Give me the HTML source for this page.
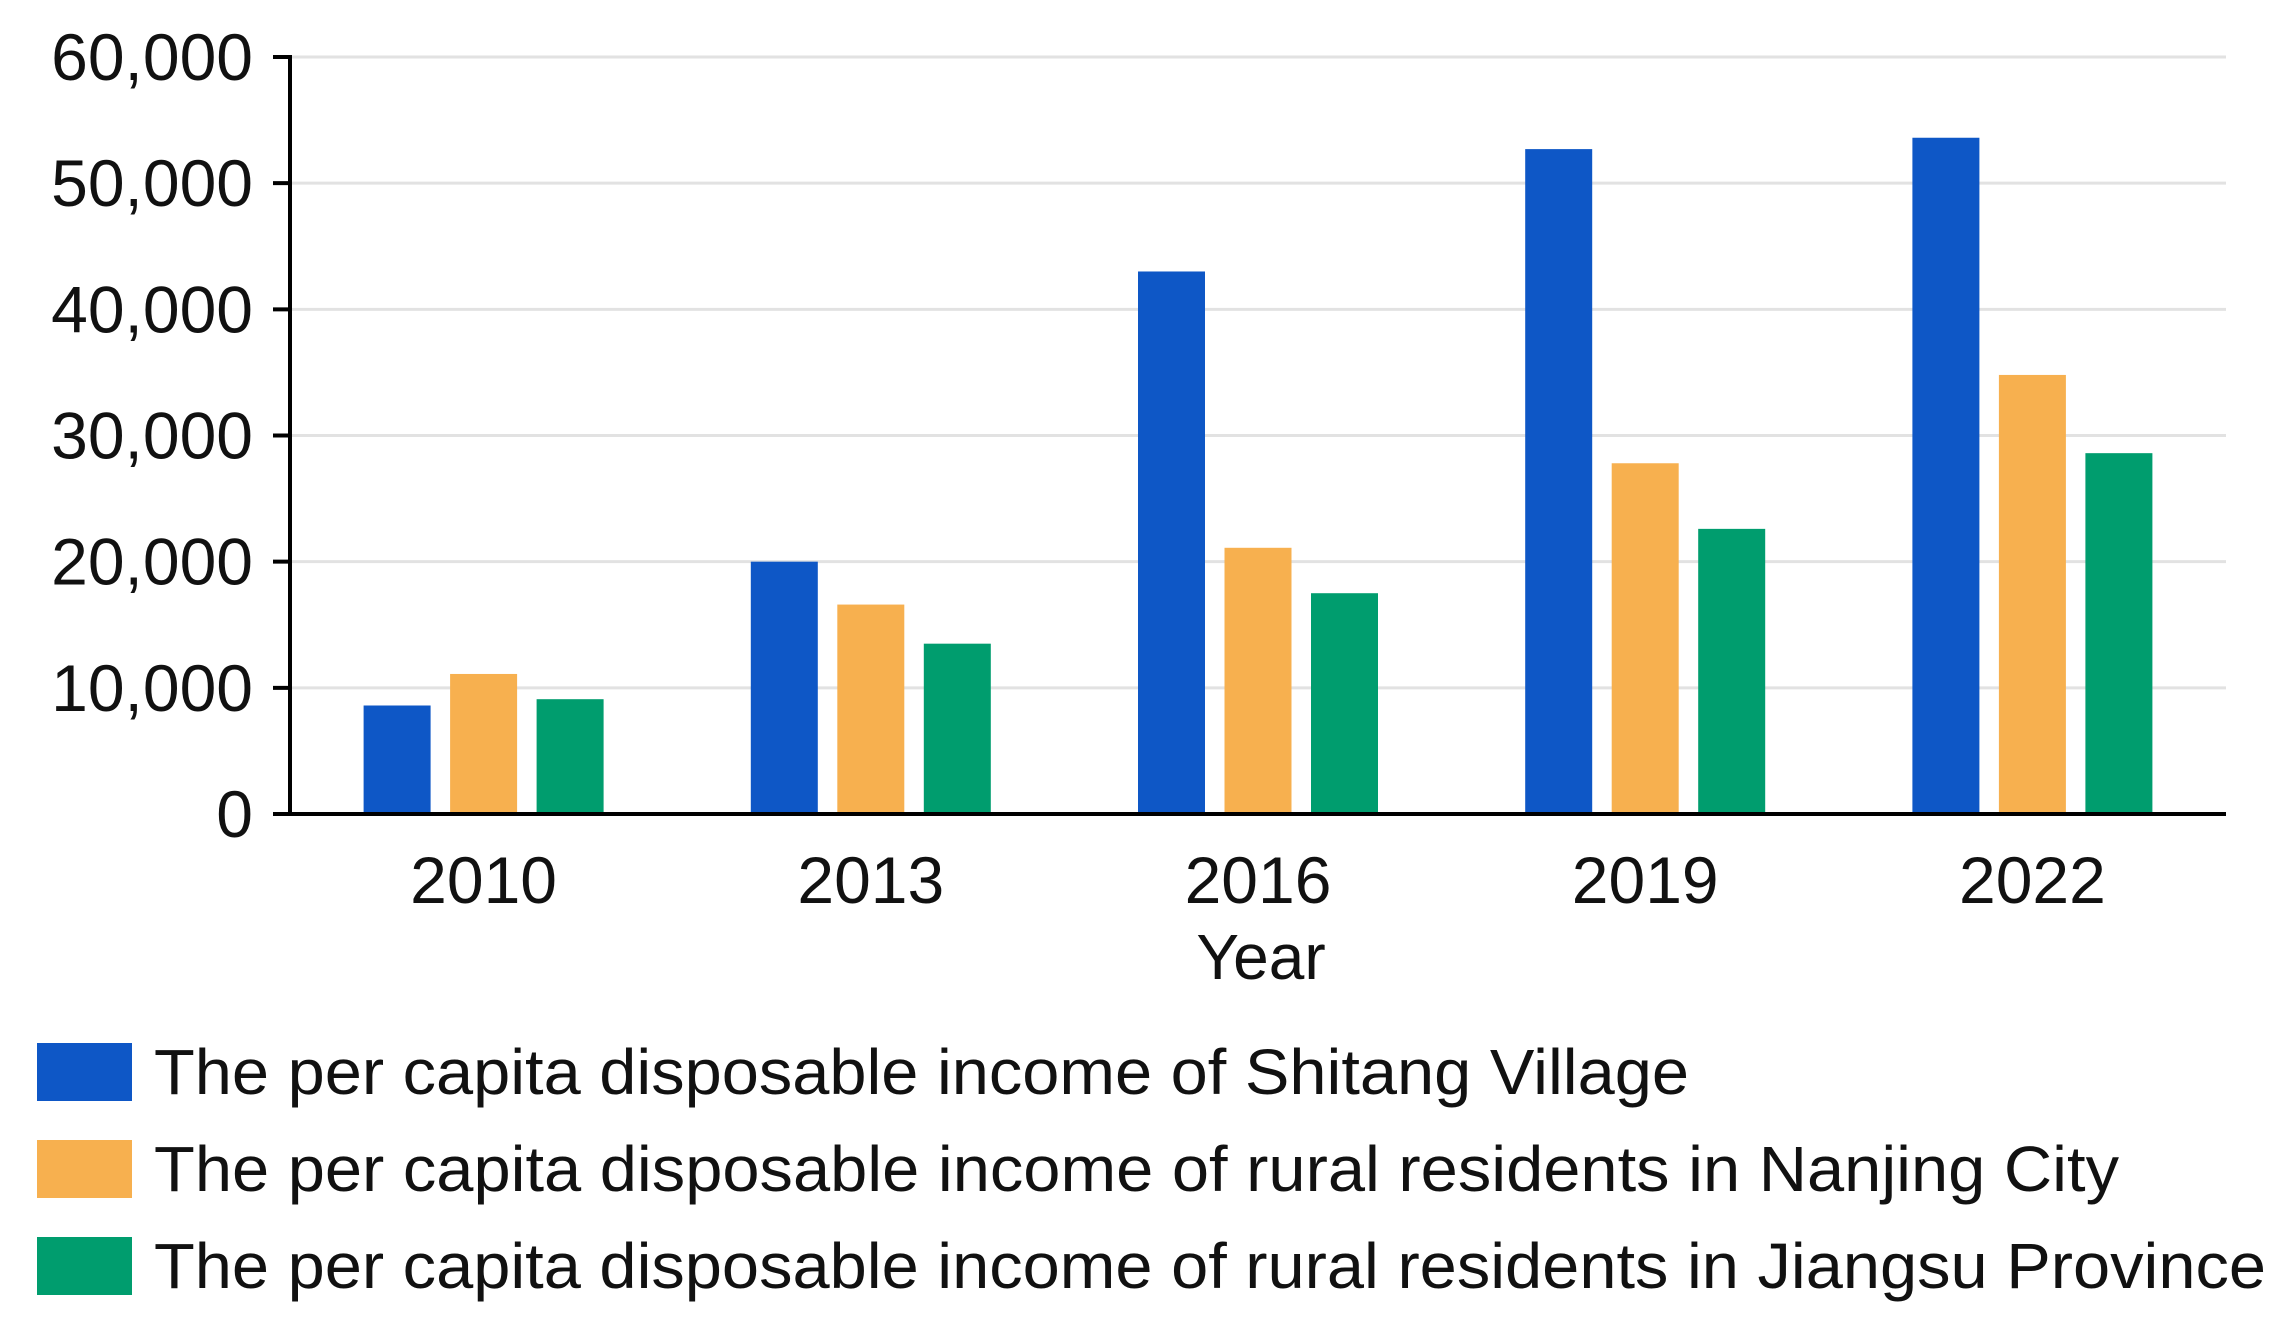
<!DOCTYPE html>
<html><head><meta charset="utf-8"><style>
html,body{margin:0;padding:0;background:#fff}
svg{display:block;font-family:"Liberation Sans",sans-serif}
</style></head><body>
<svg id="chart" width="2287" height="1327" viewBox="0 0 2287 1327" xmlns="http://www.w3.org/2000/svg">
<g id="grid"></g>
<g id="yticks"></g>
<g id="bars"></g>
<g id="xticks"></g>
<text x="1261" y="979" font-size="64" text-anchor="middle" fill="#111">Year</text>
<g id="legend"></g>
</svg>
<script>
const categories = ["2010","2013","2016","2019","2022"];
const shitang = [8600, 20000, 43000, 52700, 53600];
const nanjing = [11100, 16600, 21100, 27800, 34800];
const jiangsu = [9100, 13500, 17500, 22600, 28600];
const yTicks = [0, 10000, 20000, 30000, 40000, 50000, 60000];
const seriesNames = ["The per capita disposable income of Shitang Village","The per capita disposable income of rural residents in Nanjing City","The per capita disposable income of rural residents in Jiangsu Province"];
const colors = ["#0e57c6","#f7b04f","#009d6e"];
const NS="http://www.w3.org/2000/svg";
const X0=290,X1=2226,Y0=814,Y1=57,YMAX=60000;
const y=v=>Y0-(v/YMAX)*(Y0-Y1);
const band=(X1-X0)/categories.length;
const xc=i=>X0+band*(i+0.5);
function mk(tag,attrs,parent){const e=document.createElementNS(NS,tag);for(const k in attrs)e.setAttribute(k,attrs[k]);parent.appendChild(e);return e;}
const grid=document.getElementById('grid'),yt=document.getElementById('yticks'),bars=document.getElementById('bars'),xt=document.getElementById('xticks'),leg=document.getElementById('legend');
yTicks.forEach(v=>{
  if(v>0){const g=mk('line',{x1:X0,x2:X1,y1:y(v),y2:y(v),stroke:'#e2e2e2','stroke-width':3},grid);
  
  }
  const t=mk('line',{x1:273,x2:X0,y1:y(v),y2:y(v),stroke:'#000','stroke-width':4},yt);
  
  
  const l=mk('text',{x:253,y:y(v)+23,'font-size':66,'text-anchor':'end',fill:'#111'},yt);
  l.textContent=v.toLocaleString('en-US');
  
  
});
const ax=mk('line',{x1:X0,x2:X0,y1:Y1-2,y2:Y0,stroke:'#000','stroke-width':4},yt);


const series=[shitang,nanjing,jiangsu];
const bw=67,gap=19.5;
series.forEach((s,si)=>{
  s.forEach((v,i)=>{
    const x=xc(i)-(3*bw+2*gap)/2+si*(bw+gap);
    const r=mk('rect',{x:x,y:y(v),width:bw,height:Y0-y(v),fill:colors[si]},bars);
    
    
  });
});
const bx=mk('line',{x1:273,x2:X1,y1:Y0,y2:Y0,stroke:'#000','stroke-width':4},xt);


categories.forEach((c,i)=>{
  const t=mk('text',{x:xc(i),y:903,'font-size':66,'text-anchor':'middle',fill:'#111'},xt);
  t.textContent=c;
  
  
});
const legY=[1072,1169,1266];
const legW=[1535,1965,2112];
seriesNames.forEach((n,i)=>{
  const r=mk('rect',{x:37,y:legY[i]-29,width:95,height:58,fill:colors[i]},leg);
  
  
  const t=mk('text',{x:154,y:legY[i]+22,'font-size':64,fill:'#111',textLength:legW[i],lengthAdjust:'spacingAndGlyphs'},leg);
  t.textContent=n;
  
  
});
</script>
</body></html>
